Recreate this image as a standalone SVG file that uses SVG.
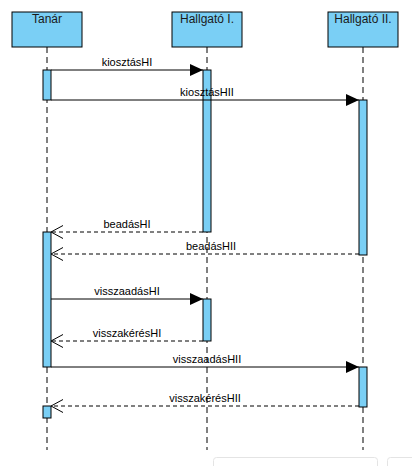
<svg xmlns="http://www.w3.org/2000/svg" width="412" height="466" viewBox="0 0 412 466">
<style>
.box{fill:#7ACFF5;stroke:#000;stroke-width:1}
.act{fill:#7ACFF5;stroke:#000;stroke-width:1}
.life{stroke:#000;stroke-width:1;stroke-dasharray:6,4;fill:none}
.msg{stroke:#000;stroke-width:1;fill:none}
.ret{stroke:#000;stroke-width:1;fill:none;stroke-dasharray:4,3}
.title{font-family:"Liberation Sans",Arial,sans-serif;font-size:12px;fill:#1a1a1a;text-anchor:middle}
.lbl{font-family:"Liberation Sans",Arial,sans-serif;font-size:11px;fill:#000;text-anchor:middle}
.ui{fill:#fff;stroke:#e4e4e4;stroke-width:1}
</style>
<defs>
<marker id="filled" markerWidth="13" markerHeight="12" refX="13" refY="6" orient="auto" markerUnits="userSpaceOnUse">
<path d="M0,0 L13,6 L0,12 Z" fill="#000"/>
</marker>
<marker id="open" markerWidth="13" markerHeight="14" refX="12" refY="7" orient="auto" markerUnits="userSpaceOnUse">
<path d="M0,0.5 L12,7 L0,13.5" fill="none" stroke="#000" stroke-width="1"/>
</marker>
</defs>
<rect x="0" y="0" width="412" height="466" fill="#fff"/>
<g id="lifelines">
<line class="life" x1="47" y1="47" x2="47" y2="450"/>
<line class="life" x1="207" y1="47" x2="207" y2="450"/>
<line class="life" x1="363" y1="47" x2="363" y2="450"/>
</g>
<g id="tanar">
<rect class="box" x="12" y="12" width="70" height="35"/>
<text class="title" x="47" y="23">Tanár</text>
</g>
<g id="hallgato1">
<rect class="box" x="172" y="12" width="70" height="35"/>
<text class="title" x="207" y="23">Hallgató I.</text>
</g>
<g id="hallgato2">
<rect class="box" x="328" y="12" width="70" height="35"/>
<text class="title" x="363" y="23">Hallgató II.</text>
</g>
<g id="activations">
<rect class="act" x="43" y="70" width="8" height="30"/>
<rect class="act" x="203" y="70" width="8" height="162"/>
<rect class="act" x="359" y="100" width="8" height="155"/>
<rect class="act" x="43" y="232" width="8" height="135"/>
<rect class="act" x="203" y="299" width="8" height="42"/>
<rect class="act" x="359" y="367" width="8" height="40"/>
<rect class="act" x="43" y="406" width="8" height="12"/>
</g>
<g id="connectors">
<line class="msg" x1="51" y1="70" x2="203" y2="70" marker-end="url(#filled)"/>
<text class="lbl" x="127" y="66">kiosztásHI</text>
<line class="msg" x1="51" y1="100" x2="359" y2="100" marker-end="url(#filled)"/>
<text class="lbl" x="207" y="96">kiosztásHII</text>
<line class="ret" x1="203" y1="232" x2="51" y2="232" marker-end="url(#open)"/>
<text class="lbl" x="127" y="228">beadásHI</text>
<line class="ret" x1="359" y1="254" x2="51" y2="254" marker-end="url(#open)"/>
<text class="lbl" x="211" y="250">beadásHII</text>
<line class="msg" x1="51" y1="299" x2="203" y2="299" marker-end="url(#filled)"/>
<text class="lbl" x="127" y="295">visszaadásHI</text>
<line class="ret" x1="203" y1="341" x2="51" y2="341" marker-end="url(#open)"/>
<text class="lbl" x="127" y="337">visszakérésHI</text>
<line class="msg" x1="51" y1="367" x2="359" y2="367" marker-end="url(#filled)"/>
<text class="lbl" x="207" y="363">visszaadásHII</text>
<line class="ret" x1="359" y1="406" x2="51" y2="406" marker-end="url(#open)"/>
<text class="lbl" x="205" y="402">visszakérésHII</text>
</g>
<rect class="ui" x="213.5" y="457.5" width="164" height="20" rx="3"/>
<rect class="ui" x="387.5" y="457.5" width="40" height="20" rx="3"/>
</svg>
